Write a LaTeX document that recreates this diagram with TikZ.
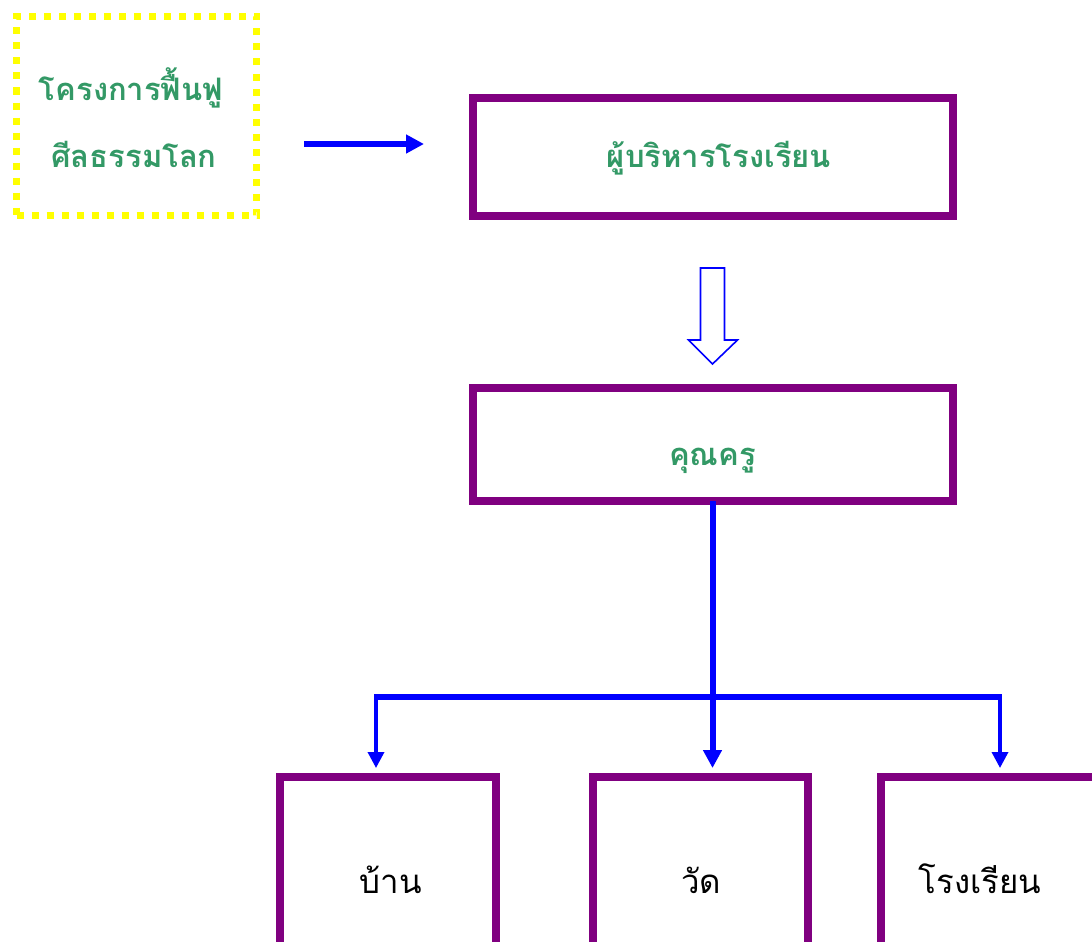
\documentclass[tikz,border=0pt]{standalone}
\usepackage{fontspec}
\newfontfamily\thaifont[Script=Thai]{Loma}
\usetikzlibrary{arrows.meta,calc}
\definecolor{tgreen}{RGB}{51,153,102}
\definecolor{tpurple}{RGB}{128,0,128}
\definecolor{tblue}{RGB}{0,0,255}
\definecolor{tyellow}{RGB}{255,255,0}
\begin{document}
\begin{tikzpicture}[x=1pt,y=-1pt,
  pbox/.style={draw=tpurple,line width=8pt,outer sep=0pt,inner sep=0pt,fill=white},
  ybox/.style={draw=tyellow,line width=7pt,dash pattern=on 7pt off 8pt,outer sep=0pt,inner sep=0pt},
  gtext/.style={text=tgreen,font=\thaifont\bfseries\fontsize{31}{36}\selectfont,inner sep=0pt,anchor=base},
  btext/.style={text=black,font=\thaifont\fontsize{33}{38}\selectfont,inner sep=0pt,anchor=base},
  bigconn/.style={draw=tblue,line width=6pt,-{Triangle[length=18pt,width=18pt]}},
  smallconn/.style={draw=tblue,line width=3.5pt,-{Triangle[length=16pt,width=16pt]}},
  hollow/.style={draw=tblue,line width=1.6pt,line join=miter}
]
\useasboundingbox (0,0) rectangle (1092,942);
\clip (0,0) rectangle (1092,942);
% boxes
\node[ybox,minimum width=240pt,minimum height=199pt] (proj) at (136.5,116) {};
\node[gtext] (projt1) at ([shift={(-5.5,-16)}]proj.center) {โครงการฟื้นฟู};
\node[gtext] (projt2) at ([shift={(-2.5,51)}]proj.center) {ศีลธรรมโลก};
\node[pbox,minimum width=480pt,minimum height=118pt] (boss) at (712.5,156.5) {};
\node[gtext] (bosst) at ([shift={(6.5,10.5)}]boss.center) {ผู้บริหารโรงเรียน};
\node[pbox,minimum width=480pt,minimum height=113pt] (kru) at (712.5,444.5) {};
\node[gtext] (krut) at ([shift={(0,20.5)}]kru.center) {คุณครู};
\node[pbox,minimum width=216pt,minimum height=210pt] (ban) at (388,882) {};
\node[btext] (bant) at ([shift={(3,11)}]ban.center) {บ้าน};
\node[pbox,minimum width=215pt,minimum height=210pt] (wat) at (700.5,882) {};
\node[btext] (watt) at ([shift={(0.5,11)}]wat.center) {วัด};
\node[pbox,minimum width=216pt,minimum height=210pt] (school) at (988.5,882) {};
\node[btext] (schoolt) at ([shift={(-8.5,11)}]school.center) {โรงเรียน};
% arrow project -> boss
\draw[bigconn] ([shift={(47.5,28)}]proj.east) -- ([shift={(-48.5,-12.5)}]boss.west);
% hollow arrow boss -> kru
\draw[hollow] ([shift={(-12,52.5)}]boss.south) -- ++(24,0) -- ++(0,72) -- ++(13,0)
  -- ++(-25,24) -- ++(-24,-24) -- ++(12,0) -- cycle;
% tree
\coordinate (jl) at (376,697);
\coordinate (jr) at (1000,697);
\draw[draw=tblue,line width=6pt] ([xshift=-2pt]jl) -- ([xshift=2pt]jr);
\draw[bigconn,shorten >=9pt] (kru.south) -- (kru.south |- wat.north);
\draw[smallconn,shorten >=9pt] (jl) -- (jl |- ban.north);
\draw[smallconn,shorten >=9pt] (jr) -- (jr |- school.north);
\end{tikzpicture}
\end{document}
